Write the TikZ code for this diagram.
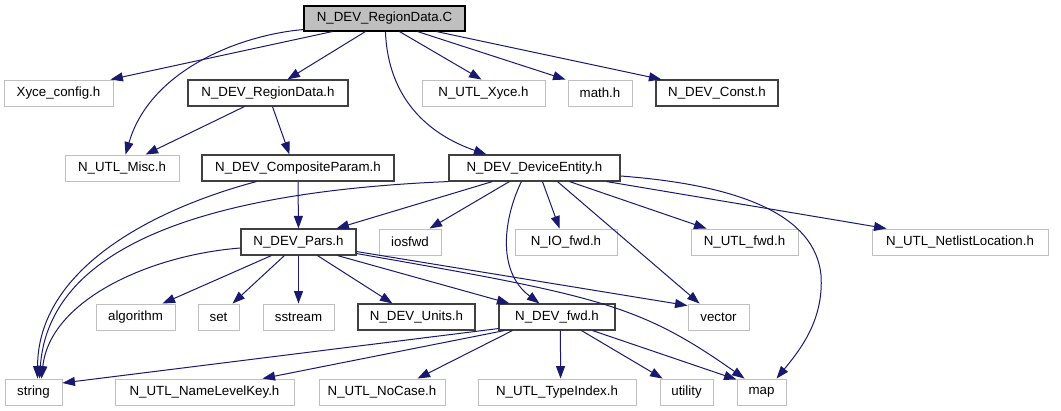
\documentclass[tikz,border=0pt]{standalone}
\usepackage{fontspec}
\setmainfont{Liberation Sans}
\usetikzlibrary{arrows.meta}
\definecolor{edgeblue}{HTML}{191970}
\definecolor{extgray}{HTML}{BFBFBF}
\definecolor{intgray}{HTML}{404040}
\definecolor{rootfill}{HTML}{BFBFBF}
\begin{document}
\begin{tikzpicture}[x=1pt,y=-1pt,
  box/.style={rectangle, inner sep=0pt, minimum height=26pt, font=\fontsize{13.3}{16}\selectfont},
  ext/.style={box, draw=extgray, line width=0.9pt},
  int/.style={box, draw=intgray, line width=1.1pt},
  root/.style={box, draw=black, line width=1.1pt, fill=rootfill},
  dep/.style={draw=edgeblue, line width=1pt, -{Triangle[length=12.5pt,width=9pt]}}]
\useasboundingbox (0,0) rectangle (1061,411);

% row 1
\node[root, minimum width=161pt, minimum height=25pt] (C) at (384.5,18.5) {N\_DEV\_RegionData.C};
% row 2
\node[ext, minimum width=109pt] (xyce) at (58.5,93) {Xyce\_config.h};
\node[int, minimum width=160pt] (rdh) at (268,93) {N\_DEV\_RegionData.h};
\node[ext, minimum width=123pt] (utlx) at (483.5,93) {N\_UTL\_Xyce.h};
\node[ext, minimum width=64pt] (math) at (600,93) {math.h};
\node[int, minimum width=122pt] (const) at (717,93) {N\_DEV\_Const.h};
% row 3
\node[ext, minimum width=114pt] (misc) at (122,168) {N\_UTL\_Misc.h};
\node[int, minimum width=192pt] (comp) at (298,168) {N\_DEV\_CompositeParam.h};
\node[int, minimum width=171pt] (dent) at (534.5,168) {N\_DEV\_DeviceEntity.h};
% row 4
\node[int, minimum width=115pt] (pars) at (298.5,242) {N\_DEV\_Pars.h};
\node[ext, minimum width=62pt] (iosfwd) at (410,242) {iosfwd};
\node[ext, minimum width=102pt] (iofwd) at (566,242) {N\_IO\_fwd.h};
\node[ext, minimum width=107pt] (utlfwd) at (744.5,242) {N\_UTL\_fwd.h};
\node[ext, minimum width=176pt] (netl) at (960,242) {N\_UTL\_NetlistLocation.h};
% row 5
\node[ext, minimum width=79pt] (algo) at (135.5,317) {algorithm};
\node[ext, minimum width=41pt] (set) at (218.5,317) {set};
\node[ext, minimum width=71pt] (sstream) at (298.5,317) {sstream};
\node[int, minimum width=117pt] (units) at (416.5,317) {N\_DEV\_Units.h};
\node[int, minimum width=116pt] (devfwd) at (557,317) {N\_DEV\_fwd.h};
\node[ext, minimum width=61pt] (vector) at (718.5,317) {vector};
% row 6
\node[ext, minimum width=57pt] (string) at (33.5,392) {string};
\node[ext, minimum width=179pt] (nlk) at (204.5,392) {N\_UTL\_NameLevelKey.h};
\node[ext, minimum width=126pt] (nocase) at (382,392) {N\_UTL\_NoCase.h};
\node[ext, minimum width=158pt] (typeidx) at (557,392) {N\_UTL\_TypeIndex.h};
\node[ext, minimum width=53pt] (utility) at (686.5,392) {utility};
\node[ext, minimum width=49pt] (map) at (761.5,392) {map};

% edges from N_DEV_RegionData.C
\draw[dep] ([xshift=29pt]C.south west) -- ([xshift=-3pt]xyce.north east);
\draw[dep] ([yshift=2pt]C.south west) .. controls (240,35) and (150,70) .. ([xshift=61pt]misc.north west);
\draw[dep] ([xshift=62pt]C.south west) -- ([xshift=100pt]rdh.north west);
\draw[dep] ([xshift=82pt]C.south west) .. controls (388,100) and (430,135) .. ([xshift=38pt]dent.north west);
\draw[dep] ([xshift=96pt]C.south west) -- ([xshift=60pt]utlx.north west);
\draw[dep] ([xshift=114pt]C.south west) -- ([xshift=-2pt]math.north west);
\draw[dep] ([xshift=133pt]C.south west) -- ([xshift=6pt]const.north west);

% edges from N_DEV_RegionData.h
\draw[dep] ([xshift=57pt]rdh.south west) -- ([xshift=81pt]misc.north west);
\draw[dep] ([xshift=85pt]rdh.south west) -- ([xshift=88pt]comp.north west);

% edges from N_DEV_CompositeParam.h
\draw[dep] (comp.south) -- (pars.north);
\draw[dep] ([xshift=55pt]comp.south west) .. controls (150,210) and (38,270) .. ([xshift=4pt]string.north);

% edges from N_DEV_DeviceEntity.h
\draw[dep] (dent.south west) .. controls (250,190) and (50,230) .. ([xshift=6pt]string.north);
\draw[dep] ([xshift=44pt]dent.south west) -- ([xshift=96pt]pars.north west);
\draw[dep] ([xshift=61pt]dent.south west) -- ([xshift=51pt]iosfwd.north west);
\draw[dep] ([xshift=73pt]dent.south west) .. controls (505,215) and (495,270) .. ([xshift=41pt]devfwd.north west);
\draw[dep] ([xshift=94pt]dent.south west) -- ([xshift=45pt]iofwd.north west);
\draw[dep] ([xshift=109pt]dent.south west) -- ([xshift=12pt]vector.north west);
\draw[dep] ([xshift=121pt]dent.south west) -- ([xshift=16pt]utlfwd.north west);
\draw[dep] ([xshift=158pt]dent.south west) -- ([xshift=15pt]netl.north west);
\draw[dep] ([yshift=-8pt]dent.east) .. controls (740,185) and (815,215) .. (821,275) .. controls (824,320) and (800,350) .. ([xshift=40pt]map.north west);

% edges from N_DEV_Pars.h
\draw[dep] ([yshift=-6pt]pars.west) .. controls (150,255) and (50,300) .. ([xshift=8pt]string.north);
\draw[dep] ([xshift=31pt]pars.south west) -- ([xshift=67pt]algo.north west);
\draw[dep] ([xshift=44pt]pars.south west) -- ([xshift=35pt]set.north west);
\draw[dep] (pars.south) -- (sstream.north);
\draw[dep] ([xshift=77pt]pars.south west) -- ([xshift=35pt]units.north west);
\draw[dep] ([xshift=97pt]pars.south west) -- ([xshift=11pt]devfwd.north west);
\draw[dep] ([yshift=4pt]pars.south east) -- ([yshift=-2pt]vector.north west);
\draw[dep] ([yshift=2pt]pars.south east) .. controls (600,296) and (640,305) .. ([xshift=8pt]map.north west);

% edges from N_DEV_fwd.h
\draw[dep] ([yshift=2pt]devfwd.south west) -- ([yshift=9pt]string.east);
\draw[dep] ([xshift=6pt]devfwd.south west) -- ([xshift=148pt]nlk.north west);
\draw[dep] ([xshift=14pt]devfwd.south west) -- ([xshift=99pt]nocase.north west);
\draw[dep] ([xshift=62pt]devfwd.south west) -- ([xshift=83pt]typeidx.north west);
\draw[dep] ([xshift=83pt]devfwd.south west) -- ([xshift=3pt]utility.north west);
\draw[dep] ([xshift=94pt]devfwd.south west) -- ([yshift=-1pt]map.north west);
\end{tikzpicture}
\end{document}
